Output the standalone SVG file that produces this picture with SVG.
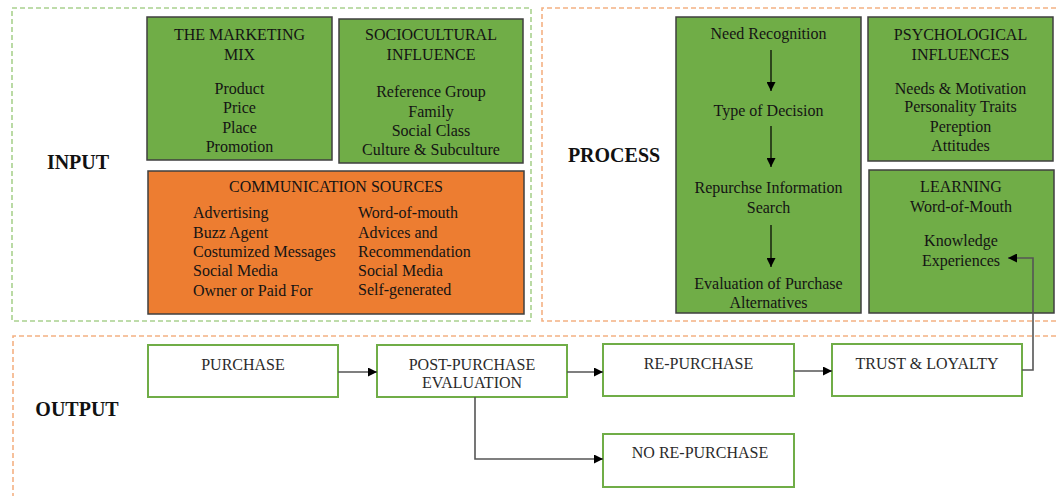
<svg xmlns="http://www.w3.org/2000/svg" width="1056" height="496" viewBox="0 0 1056 496">
  <defs>
    <style>
      .frame-in { fill: none; stroke: #a9d18e; stroke-width: 1.6; stroke-dasharray: 5 3; }
      .frame-pr { fill: none; stroke: #f4b183; stroke-width: 1.6; stroke-dasharray: 5 3; }
      .green { fill: #70ad47; stroke: #3f3f3f; stroke-width: 1.5; }
      .orange { fill: #ed7d31; stroke: #3f3f3f; stroke-width: 1.5; }
      .out { fill: #ffffff; stroke: #70ad47; stroke-width: 2; }
      .t { font-family: "Liberation Serif", "Times New Roman", serif; font-size: 16px; fill: #141414; }
      .c { text-anchor: middle; }
      .ot { font-family: "Liberation Serif", "Times New Roman", serif; font-size: 16px; fill: #2a2a2a; text-anchor: middle; }
      .lbl { font-family: "Liberation Serif", "Times New Roman", serif; font-size: 20px; font-weight: bold; fill: #111; text-anchor: middle; }
      .flow { fill: none; stroke: #000; stroke-width: 1.2; }
      .conn { fill: none; stroke: #555; stroke-width: 1.6; }
    </style>
    <marker id="ah" viewBox="0 0 10 10" refX="10" refY="5" markerWidth="9" markerHeight="9" markerUnits="userSpaceOnUse" orient="auto">
      <path d="M0,0 L10,5 L0,10 Z" fill="#000"/>
    </marker>
  </defs>

  <rect width="1056" height="496" fill="#ffffff"/>

  <!-- section frames -->
  <g id="frames">
    <rect class="frame-in" x="12" y="8" width="519" height="313"/>
    <path class="frame-pr" d="M1056,8 H542 V321 H1056"/>
    <path class="frame-pr" d="M1056,336 H13 V496"/>
  </g>

  <!-- section labels -->
  <g id="labels">
    <text class="lbl" x="78" y="169">INPUT</text>
    <text class="lbl" x="614" y="162">PROCESS</text>
    <text class="lbl" x="77" y="416">OUTPUT</text>
  </g>

  <!-- input -->
  <g id="marketing-mix">
    <rect class="green" x="147" y="17" width="185" height="143"/>
    <text class="t c" x="239.5" y="40">THE MARKETING</text>
    <text class="t c" x="239.5" y="60">MIX</text>
    <text class="t c" x="239.5" y="94">Product</text>
    <text class="t c" x="239.5" y="113">Price</text>
    <text class="t c" x="239.5" y="133">Place</text>
    <text class="t c" x="239.5" y="152">Promotion</text>
  </g>

  <g id="sociocultural">
    <rect class="green" x="339" y="19" width="184" height="144"/>
    <text class="t c" x="431" y="40">SOCIOCULTURAL</text>
    <text class="t c" x="431" y="60">INFLUENCE</text>
    <text class="t c" x="431" y="97">Reference Group</text>
    <text class="t c" x="431" y="117">Family</text>
    <text class="t c" x="431" y="136">Social Class</text>
    <text class="t c" x="431" y="155">Culture &amp; Subculture</text>
  </g>

  <g id="communication">
    <rect class="orange" x="148" y="171" width="376" height="143"/>
    <text class="t c" x="336" y="192">COMMUNICATION SOURCES</text>
    <text class="t" x="193" y="218">Advertising</text>
    <text class="t" x="193" y="238">Buzz Agent</text>
    <text class="t" x="193" y="257">Costumized Messages</text>
    <text class="t" x="193" y="276">Social Media</text>
    <text class="t" x="193" y="296">Owner or Paid For</text>
    <text class="t" x="358" y="218">Word-of-mouth</text>
    <text class="t" x="358" y="238">Advices and</text>
    <text class="t" x="358" y="257">Recommendation</text>
    <text class="t" x="358" y="276">Social Media</text>
    <text class="t" x="358" y="295">Self-generated</text>
  </g>

  <!-- process -->
  <g id="decision">
    <rect class="green" x="676" y="17" width="185" height="296"/>
    <text class="t c" x="768.5" y="39">Need Recognition</text>
    <text class="t c" x="768.5" y="116">Type of Decision</text>
    <text class="t c" x="768.5" y="193">Repurchse Information</text>
    <text class="t c" x="768.5" y="213">Search</text>
    <text class="t c" x="768.5" y="289">Evaluation of Purchase</text>
    <text class="t c" x="768.5" y="308">Alternatives</text>
  </g>

  <g id="psychological">
    <rect class="green" x="868" y="17" width="185" height="144"/>
    <text class="t c" x="960.5" y="40">PSYCHOLOGICAL</text>
    <text class="t c" x="960.5" y="60">INFLUENCES</text>
    <text class="t c" x="960.5" y="94">Needs &amp; Motivation</text>
    <text class="t c" x="960.5" y="112">Personality Traits</text>
    <text class="t c" x="960.5" y="132">Pereption</text>
    <text class="t c" x="960.5" y="151">Attitudes</text>
  </g>

  <g id="learning">
    <rect class="green" x="869" y="170" width="185" height="143"/>
    <text class="t c" x="961" y="192">LEARNING</text>
    <text class="t c" x="961" y="212">Word-of-Mouth</text>
    <text class="t c" x="961" y="246">Knowledge</text>
    <text class="t c" x="961" y="266">Experiences</text>
  </g>

  <!-- output -->
  <g id="purchase">
    <rect class="out" x="148" y="345" width="190" height="52"/>
    <text class="ot" x="243" y="370">PURCHASE</text>
  </g>
  <g id="post-purchase">
    <rect class="out" x="377" y="345" width="190" height="52"/>
    <text class="ot" x="472" y="370">POST-PURCHASE</text>
    <text class="ot" x="472" y="388">EVALUATION</text>
  </g>
  <g id="re-purchase">
    <rect class="out" x="603" y="344" width="191" height="52"/>
    <text class="ot" x="698.5" y="369">RE-PURCHASE</text>
  </g>
  <g id="trust-loyalty">
    <rect class="out" x="832" y="344" width="190" height="52"/>
    <text class="ot" x="927" y="369">TRUST &amp; LOYALTY</text>
  </g>
  <g id="no-re-purchase">
    <rect class="out" x="603" y="434" width="191" height="53"/>
    <text class="ot" x="700" y="458">NO RE-PURCHASE</text>
  </g>

  <!-- connectors -->
  <g id="connectors">
    <line class="flow" x1="771" y1="50" x2="771" y2="91" marker-end="url(#ah)"/>
    <line class="flow" x1="771" y1="126" x2="771" y2="167" marker-end="url(#ah)"/>
    <line class="flow" x1="771" y1="225" x2="771" y2="267" marker-end="url(#ah)"/>
    <line class="conn" x1="338" y1="372" x2="377" y2="372" marker-end="url(#ah)"/>
    <line class="conn" x1="567" y1="372" x2="603" y2="372" marker-end="url(#ah)"/>
    <line class="conn" x1="794" y1="371" x2="832" y2="371" marker-end="url(#ah)"/>
    <path class="conn" d="M475,397 V459 H603" marker-end="url(#ah)"/>
    <path class="conn" d="M1022,370 H1033 V258 H1008" marker-end="url(#ah)"/>
  </g>
</svg>
